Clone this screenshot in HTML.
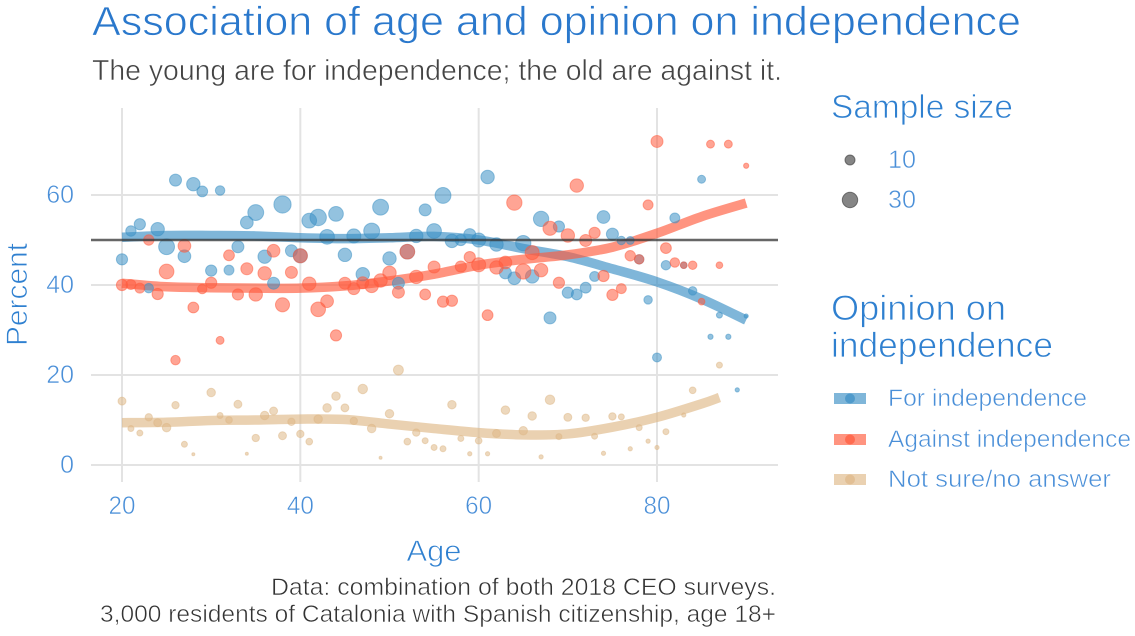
<!DOCTYPE html>
<html lang="en">
<head>
<meta charset="utf-8">
<title>Association of age and opinion on independence</title>
<style>
html,body{margin:0;padding:0;background:#fff;}
svg{display:block;font-family:"Liberation Sans",sans-serif;}
svg text{stroke:#fff;stroke-width:0.55px;}
svg text.large{stroke-width:0.8px;}
</style>
</head>
<body>
<svg id="chart" width="1135" height="636" viewBox="0 0 1135 636" xmlns="http://www.w3.org/2000/svg">
  <rect width="1135" height="636" fill="#fff"/>
  <g id="grid"></g>
  <g id="lines"></g>
  <g id="points"></g>
  <g id="reference"></g>
  <g id="ticks"></g>

  <text class="large" x="92" y="35" font-size="41" fill="#2a78cc" textLength="929" lengthAdjust="spacingAndGlyphs">Association of age and opinion on independence</text>
  <text x="92" y="80" font-size="29" fill="#444" textLength="690" lengthAdjust="spacingAndGlyphs">The young are for independence; the old are against it.</text>
  <text class="large" x="434" y="561" font-size="30" fill="#2f80d0" text-anchor="middle" textLength="55" lengthAdjust="spacingAndGlyphs">Age</text>
  <text class="large" transform="translate(27,294.5) rotate(-90)" font-size="30" fill="#2f80d0" text-anchor="middle" textLength="103" lengthAdjust="spacingAndGlyphs">Percent</text>
  <text x="776" y="595" font-size="24" fill="#333" text-anchor="end" textLength="505" lengthAdjust="spacingAndGlyphs">Data: combination of both 2018 CEO surveys.</text>
  <text x="776" y="622" font-size="24" fill="#333" text-anchor="end" textLength="676" lengthAdjust="spacingAndGlyphs">3,000 residents of Catalonia with Spanish citizenship, age 18+</text>

  <g>
    <text class="large" x="831" y="118" font-size="33" fill="#2f80d0" textLength="182" lengthAdjust="spacingAndGlyphs">Sample size</text>
    <circle cx="850" cy="160" r="5" fill="#333" fill-opacity="0.6" stroke="#333" stroke-opacity="0.6"/>
    <text x="888" y="168" font-size="25" fill="#4a8fd8" textLength="28" lengthAdjust="spacingAndGlyphs">10</text>
    <circle cx="850" cy="200" r="7.7" fill="#333" fill-opacity="0.6" stroke="#333" stroke-opacity="0.6"/>
    <text x="888" y="208" font-size="25" fill="#4a8fd8" textLength="28" lengthAdjust="spacingAndGlyphs">30</text>
  </g>

  <g>
    <text class="large" x="831" y="320" font-size="35" fill="#2f80d0" textLength="175" lengthAdjust="spacingAndGlyphs">Opinion on</text>
    <text class="large" x="831" y="357" font-size="35" fill="#2f80d0" textLength="222" lengthAdjust="spacingAndGlyphs">independence</text>

    <rect x="834" y="393" width="32" height="11" fill="#3a8fc4" fill-opacity="0.65"/>
    <circle cx="850" cy="398.5" r="5" fill="#3a8fc4" fill-opacity="0.7"/>
    <text x="888" y="406" font-size="24" fill="#4a8fd8" textLength="199" lengthAdjust="spacingAndGlyphs">For independence</text>

    <rect x="834" y="434" width="32" height="11" fill="#ff5a3c" fill-opacity="0.65"/>
    <circle cx="850" cy="439.5" r="5" fill="#ff5a3c" fill-opacity="0.7"/>
    <text x="888" y="447" font-size="24" fill="#4a8fd8" textLength="243" lengthAdjust="spacingAndGlyphs">Against independence</text>

    <rect x="834" y="474" width="32" height="11" fill="#deb887" fill-opacity="0.65"/>
    <circle cx="850" cy="479.5" r="5" fill="#deb887" fill-opacity="0.7"/>
    <text x="888" y="487" font-size="24" fill="#4a8fd8" textLength="223" lengthAdjust="spacingAndGlyphs">Not sure/no answer</text>
  </g>
</svg>

<script>
const xTickLabels = [20, 40, 60, 80];
const yTickLabels = [0, 20, 40, 60];
const referenceValue = 50;
const firstAge = 20;

const forPct = [
  45.7, 52, 53.5, 39.3, 52.4, 48.5, 63.3, 46.4, 62.4, 60.8,
  43.2, 61, 43.3, 48.5, 53.9, 56.1, 46.3, 40.4, 57.9, 47.6,
  46.5, 54.3, 55, 50.7, 55.8, 46.7, 50.9, 42.4, 52, 57.3,
  45.9, 40.4, 47.4, 50.9, 56.7, 52, 59.9, 49.8, 50, 51.2,
  50, 64, 49, 42.7, 41.5, 49.3, 41.9, 54.7, 32.7, 53,
  38.3, 37.9, 39.4, 41.9, 55.1, 51.3, 49.9, 49.9, 45.7, 36.7,
  23.9, 44.4, 54.9, 44.4, 38.7, 63.5, 28.5, 33.3, 28.5, 16.7, 33.1
];
const forN = [
  14, 12, 14, 10, 20, 28, 16, 18, 20, 13,
  14, 10, 11, 16, 18, 28, 20, 16, 33, 16,
  22, 24, 30, 24, 24, 20, 22, 20, 28, 28,
  20, 16, 24, 20, 16, 24, 28, 20, 14, 16,
  22, 20, 20, 16, 18, 26, 20, 26, 16, 14,
  14, 13, 13, 11, 18, 16, 8, 7, 10, 8,
  9, 10, 11, 5, 8, 7, 3, 4, 3, 2, 2
];
const againstPct = [
  40, 40.1, 39.3, 50, 38, 43, 23.3, 48.7, 35, 39.1,
  40.5, 27.7, 46.6, 37.9, 43.6, 37.9, 42.6, 47.6, 35.6, 42.8,
  46.5, 40.3, 34.6, 36.4, 28.8, 40.4, 39.2, 40.5, 39.8, 41,
  42.7, 38.4, 47.4, 41.8, 37.9, 44, 36.3, 36.5, 44.1, 46.2,
  44.5, 33.3, 43.9, 45, 58.3, 43, 47.2, 43.3, 52.6, 40.5,
  51, 62.1, 49.9, 51.6, 42, 37.8, 39.2, 46.5, 45.7, 57.8,
  71.9, 48.2, 45, 44.4, 44.4, 36.3, 71.3, 44.4, 71.3, null, 66.5
];
const againstN = [
  14, 11, 11, 12, 14, 24, 10, 18, 13, 10,
  14, 7, 13, 14, 16, 20, 20, 18, 22, 16,
  22, 20, 24, 18, 14, 16, 16, 16, 20, 20,
  20, 16, 24, 20, 13, 16, 14, 14, 14, 14,
  22, 13, 20, 18, 26, 26, 22, 20, 22, 14,
  20, 20, 16, 14, 14, 14, 11, 12, 10, 11,
  16, 13, 10, 5, 8, 5, 7, 5, 7, null, 3
];
const notSurePct = [
  14.2, 8.1, 7.1, 10.6, 9.4, 8.3, 13.3, 4.6, 2.4, null,
  16.1, 11, 10, 13.5, 2.5, 6, 11, 12, 6.5, 9.6,
  6.9, 5.2, 10.2, 12.7, 15.3, 12.7, 9.8, 16.9, 8.1, 1.6,
  11.4, 21.1, 5.2, 7.2, 5.4, 3.9, 3.6, 13.4, 5.9, 2.5,
  5.4, 2.5, 7, 12.2, null, 7.6, 10.9, 1.8, 14.5, 6.3,
  10.6, null, 10.5, 6.4, 2.6, 10.8, 10.7, 3.6, 8.3, 5.3,
  3.9, 7.4, null, 11.1, 16.6, null, null, 22.2, null, null, null
];
const notSureN = [
  7, 4, 4, 6, 7, 8, 6, 4, 1, null,
  8, 4, 5, 7, 1, 6, 8, 7, 7, 6,
  6, 5, 8, 8, 8, 7, 6, 10, 8, 1,
  8, 11, 5, 6, 4, 4, 4, 8, 4, 2,
  5, 2, 7, 8, null, 8, 8, 2, 10, 4,
  7, null, 6, 4, 2, 6, 4, 2, 4, 2,
  2, 4, null, 2, 5, null, null, 4, null, null, null
];

const smoothAges = [20, 25, 30, 35, 40, 45, 50, 55, 60, 65, 70, 75, 80, 85, 90];
const forSmooth = [50.6, 51, 51, 50.9, 50.5, 50.3, 50.5, 50.8, 50, 48.1, 46.3, 43.6, 40.7, 36.9, 32.2];
const againstSmooth = [40.4, 39.6, 39.4, 39.3, 39.3, 39.8, 40.9, 42.4, 44.4, 45.7, 46.7, 48.4, 51.5, 55.2, 58.2];
const notSureSmoothAges = [20, 25, 30, 35, 40, 45, 50, 55, 60, 65, 70, 75, 80, 85, 87];
const notSureSmooth = [9.4, 9.5, 9.9, 10, 10.2, 10.1, 9.1, 8.1, 7.2, 6.7, 6.9, 8.4, 10.6, 13.6, 15];

const SVGNS = 'http://www.w3.org/2000/svg';
function xScale(age) { return 122 + (age - 20) * (657 - 122) / 60; }
function yScale(pct) { return 465 - pct * 4.5; }
function rScale(n) { return 1.5 * Math.sqrt(n); }
function make(parent, tag, attrs) {
  const el = document.createElementNS(SVGNS, tag);
  for (const k in attrs) el.setAttribute(k, attrs[k]);
  parent.appendChild(el);
  return el;
}
function smoothPath(ages, vals) {
  const p = ages.map((a, i) => [xScale(a), yScale(vals[i])]);
  let d = 'M' + p[0][0] + ' ' + p[0][1];
  for (let i = 0; i < p.length - 1; i++) {
    const p0 = p[Math.max(i - 1, 0)], p1 = p[i], p2 = p[i + 1], p3 = p[Math.min(i + 2, p.length - 1)];
    d += 'C' + (p1[0] + (p2[0] - p0[0]) / 6) + ' ' + (p1[1] + (p2[1] - p0[1]) / 6) + ' ' +
         (p2[0] - (p3[0] - p1[0]) / 6) + ' ' + (p2[1] - (p3[1] - p1[1]) / 6) + ' ' + p2[0] + ' ' + p2[1];
  }
  return d;
}

const gridG = document.getElementById('grid');
const linesG = document.getElementById('lines');
const pointsG = document.getElementById('points');
const refG = document.getElementById('reference');
const ticksG = document.getElementById('ticks');

xTickLabels.forEach(function (t) {
  const line = make(gridG, 'line', { x1: xScale(t), x2: xScale(t), y1: 108, y2: 482, stroke: '#e3e3e3', 'stroke-width': 2 });
  
  
  const label = make(ticksG, 'text', { x: xScale(t), y: 514, 'font-size': 25, fill: '#4a8fd8', 'text-anchor': 'middle', textLength: 27, lengthAdjust: 'spacingAndGlyphs' });
  label.textContent = t;
  
  
});
yTickLabels.forEach(function (t) {
  const line = make(gridG, 'line', { x1: 91, x2: 778, y1: yScale(t), y2: yScale(t), stroke: '#e3e3e3', 'stroke-width': 2 });
  
  
  const label = make(ticksG, 'text', { x: 74, y: yScale(t) + 8, 'font-size': 25, fill: '#4a8fd8', 'text-anchor': 'end' });
  label.textContent = t;
  
  
});

function drawLine(ages, vals, color, name) {
  const path = make(linesG, 'path', { d: smoothPath(ages, vals), fill: 'none', stroke: color, 'stroke-width': 9.5, 'stroke-opacity': 0.65 });
  
  
}
drawLine(smoothAges, forSmooth, '#3a8fc4', 'smooth-line-for');
drawLine(smoothAges, againstSmooth, '#ff5a3c', 'smooth-line-against');
drawLine(notSureSmoothAges, notSureSmooth, '#deb887', 'smooth-line-not-sure');

function drawPoints(pcts, ns, color, name) {
  pcts.forEach(function (v, i) {
    if (v === null || ns[i] === null) return;
    const c = make(pointsG, 'circle', {
      cx: xScale(firstAge + i), cy: yScale(v), r: rScale(ns[i]),
      fill: color, 'fill-opacity': 0.55, stroke: color, 'stroke-opacity': 0.5, 'stroke-width': 1
    });
    
    
  });
}
drawPoints(forPct, forN, '#3a8fc4', 'point-for');
drawPoints(againstPct, againstN, '#ff5a3c', 'point-against');
drawPoints(notSurePct, notSureN, '#deb887', 'point-not-sure');

const refLine = make(refG, 'line', { x1: 91, x2: 778, y1: yScale(referenceValue), y2: yScale(referenceValue), stroke: '#333', 'stroke-width': 2.4, 'stroke-opacity': 0.75 });


</script>
</body>
</html>
